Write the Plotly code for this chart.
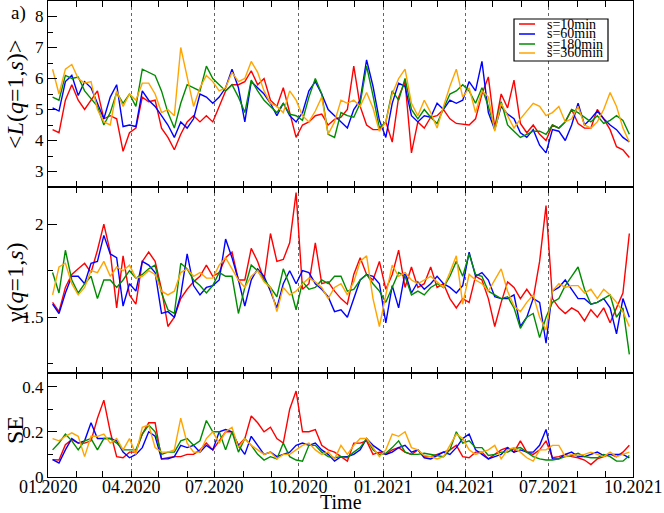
import pandas as pd
import plotly.graph_objects as go
from plotly.subplots import make_subplots

# ---- data (weekly samples) ----
dates = pd.date_range("2020-01-06", periods=91, freq="7D")

series_names = ["s=10min", "s=60min", "s=180min", "s=360min"]
series_colors = ["#ff0000", "#0000ff", "#008c00", "#ffa500"]

tick_dates = ["2020-01-01", "2020-04-01", "2020-07-01", "2020-10-01",
              "2021-01-01", "2021-04-01", "2021-07-01", "2021-10-01"]
tick_labels = ["01.2020", "04.2020", "07.2020", "10.2020",
               "01.2021", "04.2021", "07.2021", "10.2021"]

L10 = [4.35,4.25,5.3,5.8,5.3,5.0,5.3,5.6,4.7,4.8,4.7,3.65,4.25,4.4,5.4,5.25,5.3,4.4,4.1,3.7,
       4.2,4.6,4.8,4.6,4.8,4.6,5.1,5.6,5.8,5.8,5.9,6.25,5.8,6.0,5.3,5.1,5.7,4.9,4.1,4.5,
       4.6,4.8,4.85,4.5,
       4.68,4.75,5.0,6.4,5.1,4.5,4.35,4.35,4.6,3.95,5.4,5.9,3.6,4.6,4.4,4.75,4.8,5.0,4.7,4.55,
       4.52,4.5,4.7,5.5,6.05,4.4,5.5,5.05,5.95,4.55,4.25,4.5,4.2,4.0,4.5,4.4,4.6,5.0,4.55,4.4,
       4.4,5.0,4.7,4.35,3.8,3.7,3.45]
L60 = [5.05,4.95,5.9,6.1,5.45,5.9,5.7,5.2,4.7,5.4,5.8,4.45,4.5,4.45,5.6,5.3,5.1,4.8,4.5,4.1,
       4.6,4.4,4.7,5.5,5.4,5.2,5.4,5.7,6.3,5.7,4.6,5.9,5.7,5.5,5.2,4.8,5.2,4.8,4.6,4.9,
       5.6,5.9,5.5,5.0,
       4.8,4.6,4.4,5.0,5.3,6.6,5.75,4.65,4.1,5.2,5.85,5.75,4.8,4.6,4.8,4.75,5.2,5.0,5.3,5.2,
       5.3,5.9,5.6,6.55,4.9,4.35,5.1,4.85,4.7,4.25,4.1,4.35,3.85,3.6,4.35,4.3,4.0,4.5,5.2,4.5,
       4.7,4.95,4.7,4.5,4.35,4.1,3.95]
L180 = [5.4,5.3,6.1,6.0,6.05,5.6,5.35,5.1,4.5,4.9,5.55,5.2,5.5,5.1,6.3,6.2,6.1,5.6,4.9,4.4,
        5.2,5.8,5.7,5.6,6.4,6.0,5.8,5.6,5.8,5.4,4.9,5.95,5.6,5.3,5.1,4.9,5.2,4.85,4.8,4.65,
        5.4,6.0,5.5,4.2,
        4.1,4.9,4.8,4.75,5.2,6.4,5.45,4.4,4.6,5.6,5.3,6.0,5.0,4.7,5.0,4.75,4.55,5.0,5.5,5.6,
        5.8,5.6,5.2,5.7,5.1,4.4,5.25,4.5,4.3,4.1,4.2,4.3,4.3,4.2,4.5,4.4,4.6,5.0,4.9,4.75,
        4.6,4.8,4.55,4.65,4.8,4.65,4.2]
L360 = [6.3,5.5,6.3,6.45,6.0,5.85,5.9,5.0,4.6,4.5,5.6,5.1,5.5,5.3,5.85,5.85,5.5,4.9,5.0,4.8,
        7.0,6.0,5.1,5.7,6.1,5.9,5.6,5.7,6.2,5.9,6.0,6.55,6.2,5.6,5.2,5.1,4.9,5.6,5.3,4.8,
        4.6,4.95,5.4,4.2,
        4.6,5.3,5.2,5.3,5.1,5.55,5.05,4.3,4.6,5.5,6.0,6.3,5.2,4.8,5.3,4.9,4.4,5.1,5.75,6.3,
        5.4,5.7,4.9,5.6,5.4,4.3,5.2,4.8,4.4,4.7,4.95,5.2,5.1,4.8,4.9,5.1,4.6,4.7,5.1,4.5,
        4.4,4.6,5.0,5.55,5.1,4.4,3.95]

G10 = [1.58,1.53,1.66,1.73,1.76,1.79,1.74,1.86,2.0,1.85,1.55,1.83,1.62,1.57,1.8,1.85,1.8,1.65,1.45,1.5,
       1.6,1.65,1.69,1.72,1.78,1.72,1.74,1.82,1.85,1.7,1.7,1.87,1.8,1.7,1.95,1.8,1.81,1.9,2.17,1.65,
       1.68,1.9,1.68,1.69,1.64,1.6,
       1.57,1.73,1.82,1.73,1.7,1.8,1.65,1.73,1.86,1.66,1.77,1.66,1.68,1.77,1.66,1.68,1.6,1.55,1.6,1.58,
       1.72,1.7,1.6,1.45,1.58,1.69,1.66,1.6,1.65,1.6,1.8,2.1,1.6,1.55,1.52,1.55,1.53,1.48,1.54,1.5,
       1.55,1.47,1.55,1.63,1.95]
G60 = [1.57,1.52,1.63,1.72,1.72,1.68,1.79,1.8,1.94,1.84,1.82,1.56,1.68,1.64,1.8,1.78,1.74,1.52,1.53,1.5,
       1.62,1.84,1.67,1.62,1.66,1.67,1.7,1.92,1.82,1.7,1.56,1.7,1.76,1.72,1.64,1.55,1.68,1.75,1.68,1.75,
       1.74,1.68,1.65,1.61,1.53,1.54,
       1.5,1.6,1.7,1.73,1.72,1.68,1.47,1.67,1.55,1.74,1.63,1.69,1.65,1.68,1.72,1.68,1.66,1.63,1.67,1.85,
       1.72,1.74,1.7,1.61,1.6,1.6,1.62,1.45,1.5,1.6,1.58,1.36,1.64,1.66,1.7,1.65,1.6,1.6,1.57,1.58,
       1.6,1.55,1.41,1.6,1.5]
G180 = [1.74,1.63,1.86,1.7,1.63,1.68,1.72,1.6,1.7,1.7,1.66,1.7,1.75,1.71,1.73,1.76,1.78,1.63,1.54,1.52,
        1.79,1.76,1.7,1.67,1.63,1.67,1.74,1.72,1.72,1.52,1.66,1.78,1.75,1.7,1.66,1.61,1.76,1.67,1.54,1.69,
        1.65,1.66,1.7,1.68,1.72,1.72,
        1.64,1.65,1.7,1.73,1.68,1.64,1.58,1.66,1.74,1.72,1.62,1.64,1.62,1.66,1.68,1.66,1.72,1.8,1.72,1.84,
        1.73,1.72,1.64,1.62,1.6,1.61,1.55,1.44,1.5,1.52,1.39,1.5,1.58,1.6,1.67,1.72,1.77,1.65,1.57,1.58,
        1.6,1.62,1.5,1.55,1.3]
G360 = [1.62,1.77,1.79,1.68,1.62,1.66,1.75,1.74,1.8,1.72,1.77,1.75,1.78,1.71,1.72,1.75,1.73,1.64,1.62,1.64,
        1.74,1.76,1.72,1.74,1.71,1.71,1.78,1.82,1.76,1.7,1.66,1.72,1.75,1.69,1.66,1.53,1.66,1.62,1.64,1.68,
        1.71,1.69,1.66,1.6,1.66,1.68,
        1.62,1.69,1.8,1.83,1.6,1.45,1.62,1.78,1.72,1.74,1.7,1.68,1.7,1.72,1.69,1.66,1.74,1.83,1.57,1.73,
        1.7,1.68,1.64,1.7,1.76,1.64,1.56,1.53,1.58,1.62,1.5,1.43,1.64,1.68,1.66,1.67,1.67,1.63,1.65,1.6,
        1.65,1.62,1.58,1.53,1.45]

S10 = [0.077,0.075,0.143,0.165,0.15,0.15,0.16,0.26,0.34,0.2,0.09,0.085,0.11,0.11,0.19,0.24,0.24,0.08,0.085,0.09,
       0.09,0.1,0.1,0.12,0.15,0.12,0.16,0.2,0.2,0.14,0.17,0.27,0.24,0.2,0.22,0.17,0.15,0.3,0.38,0.2,
       0.2,0.21,0.14,0.12,0.11,0.09,
       0.07,0.15,0.15,0.16,0.1,0.11,0.1,0.12,0.13,0.11,0.1,0.12,0.09,0.09,0.1,0.11,0.12,0.14,0.09,0.085,
       0.11,0.11,0.08,0.1,0.12,0.13,0.11,0.16,0.11,0.1,0.12,0.16,0.085,0.09,0.1,0.09,0.085,0.075,0.055,0.08,
       0.09,0.1,0.09,0.11,0.14]
S60 = [0.077,0.062,0.12,0.17,0.15,0.16,0.24,0.17,0.17,0.17,0.16,0.11,0.085,0.1,0.13,0.2,0.18,0.08,0.08,0.09,
       0.14,0.13,0.14,0.11,0.14,0.12,0.2,0.21,0.2,0.14,0.1,0.18,0.14,0.1,0.11,0.09,0.1,0.11,0.14,0.15,
       0.14,0.15,0.12,0.1,0.07,0.09,
       0.09,0.1,0.12,0.17,0.14,0.12,0.1,0.11,0.13,0.14,0.11,0.12,0.085,0.08,0.095,0.11,0.1,0.13,0.17,0.19,
       0.12,0.1,0.08,0.09,0.1,0.13,0.11,0.12,0.11,0.11,0.14,0.21,0.08,0.08,0.1,0.11,0.09,0.09,0.1,0.11,
       0.095,0.1,0.1,0.1,0.085]
S180 = [0.12,0.15,0.19,0.16,0.12,0.16,0.17,0.12,0.17,0.17,0.15,0.12,0.12,0.12,0.19,0.23,0.2,0.1,0.11,0.11,
        0.16,0.17,0.14,0.16,0.25,0.2,0.2,0.12,0.2,0.11,0.17,0.14,0.1,0.075,0.09,0.08,0.15,0.09,0.075,0.07,
        0.14,0.14,0.11,0.09,0.085,0.09,
        0.085,0.11,0.13,0.17,0.12,0.1,0.105,0.13,0.16,0.11,0.1,0.1,0.105,0.1,0.095,0.09,0.12,0.2,0.15,0.16,
        0.13,0.13,0.095,0.1,0.11,0.11,0.125,0.13,0.11,0.09,0.08,0.075,0.075,0.08,0.09,0.095,0.105,0.09,0.085,0.085,
        0.1,0.09,0.07,0.07,0.095]
S360 = [0.17,0.16,0.18,0.195,0.18,0.09,0.18,0.18,0.19,0.15,0.17,0.12,0.17,0.1,0.22,0.23,0.13,0.11,0.11,0.12,
        0.26,0.15,0.11,0.11,0.17,0.2,0.15,0.2,0.22,0.13,0.17,0.14,0.12,0.1,0.11,0.08,0.1,0.1,0.12,0.14,
        0.15,0.12,0.1,0.11,0.08,0.14,
        0.1,0.14,0.17,0.17,0.13,0.09,0.12,0.19,0.18,0.2,0.13,0.12,0.095,0.09,0.08,0.09,0.14,0.19,0.17,0.12,
        0.1,0.11,0.12,0.14,0.08,0.12,0.13,0.11,0.085,0.07,0.12,0.12,0.14,0.14,0.09,0.1,0.095,0.1,0.11,0.1,
        0.09,0.11,0.09,0.1,0.11]

panels = [[L10, L60, L180, L360], [G10, G60, G180, G360], [S10, S60, S180, S360]]

# ---- figure ----
W, H = 664, 513
ML, MR, MT, MB = 48, 31, 1, 36
PW, PH = W - ML - MR, H - MT - MB


def px(x):
    return (x - ML) / PW


def py(y):
    return (H - MB - y) / PH


fig = make_subplots(rows=3, cols=1, shared_xaxes=True, vertical_spacing=0,
                    row_heights=[186, 186, 104])

for r, group in enumerate(panels, start=1):
    for vals, name, col in zip(group, series_names, series_colors):
        n = len(vals)
        fig.add_trace(go.Scatter(x=dates[:n], y=vals, mode="lines", name=name,
                                 line=dict(color=col, width=1.4), showlegend=False),
                      row=r, col=1)

FONT = "Liberation Serif"
xcommon = dict(range=["2020-01-01", "2021-10-01"], type="date", tick0="2020-01-01", dtick="M3",
               showticklabels=False, ticks="inside", ticklen=6, tickcolor="black",
               showgrid=True, gridcolor="#666666", griddash="dot", gridwidth=1,
               showline=True, linecolor="black", linewidth=1, mirror="ticks",
               minor=dict(dtick="M1", ticks="inside", ticklen=6, tickcolor="black", showgrid=False),
               zeroline=False)
for i in (1, 2, 3):
    fig.update_xaxes(row=i, col=1, **xcommon)

ycommon = dict(ticks="inside", ticklen=9, tickcolor="black", showgrid=False, zeroline=False,
               showline=True, linecolor="black", linewidth=1, mirror=True,
               tickfont=dict(family=FONT, size=17, color="black"))
fig.update_yaxes(row=1, col=1, range=[2.5, 8.5], tick0=0, dtick=1,
                 minor=dict(dtick=0.5, ticks="inside", ticklen=5, tickcolor="black"), **ycommon)
fig.update_yaxes(row=2, col=1, range=[1.2, 2.2], tick0=0, dtick=0.5,
                 minor=dict(dtick=0.25, ticks="inside", ticklen=5, tickcolor="black"), **ycommon)
fig.update_yaxes(row=3, col=1, range=[0, 0.46], tick0=0, dtick=0.2,
                 minor=dict(dtick=0.1, ticks="inside", ticklen=5, tickcolor="black"), **ycommon)

b1, b2 = py(187), py(373)
fig.update_layout(yaxis=dict(domain=[b1, 1]), yaxis2=dict(domain=[b2, b1]), yaxis3=dict(domain=[0, b2]))

ann = []
# x tick labels on the bottom axis, placed at the tick dates
for d, lab in zip(tick_dates, tick_labels):
    ann.append(dict(text=lab, x=d, xref="x3", y=py(487), font=dict(size=18)))
ann.append(dict(text="&lt;<i>L</i>(<i>q</i>=1,<i>s</i>)&gt;", x=px(15), y=py(95), textangle=-90,
                font=dict(size=24)))
ann.append(dict(text="γ(<i>q</i>=1,<i>s</i>)", x=px(15), y=py(283), textangle=-90,
                font=dict(size=24)))
ann.append(dict(text="SE", x=px(15), y=py(430), textangle=-90, font=dict(size=24)))
ann.append(dict(text="a)", x=px(18), y=py(13), font=dict(size=19)))
ann.append(dict(text="Time", x=px(341), y=py(502), font=dict(size=20)))

shapes = [dict(type="rect", xref="paper", yref="paper", x0=px(514), x1=px(608), y0=py(61), y1=py(19),
               line=dict(color="black", width=1.2), fillcolor="white", layer="above")]
leg_y = [24, 34, 44, 53]
for name, col, yy in zip(series_names, series_colors, leg_y):
    shapes.append(dict(type="line", xref="paper", yref="paper", x0=px(519), x1=px(535),
                       y0=py(yy), y1=py(yy), line=dict(color=col, width=1.5), layer="above"))
    ann.append(dict(text=name, x=px(545), y=py(yy), xanchor="left", font=dict(size=14)))

for a in ann:
    a.setdefault("xref", "paper")
    a.setdefault("yref", "paper")
    a.setdefault("showarrow", False)
    a.setdefault("xanchor", "center")
    a.setdefault("yanchor", "middle")
    a["font"] = dict(family=FONT, color="black", size=a["font"]["size"])

fig.update_layout(width=W, height=H, margin=dict(l=ML, r=MR, t=MT, b=MB),
                  plot_bgcolor="white", paper_bgcolor="white",
                  font=dict(family=FONT, color="black"), showlegend=False,
                  annotations=ann, shapes=shapes)

fig.write_html("out.html", config={"displayModeBar": False},
               post_script="document.body.style.margin='0';document.body.style.overflow='hidden';")
